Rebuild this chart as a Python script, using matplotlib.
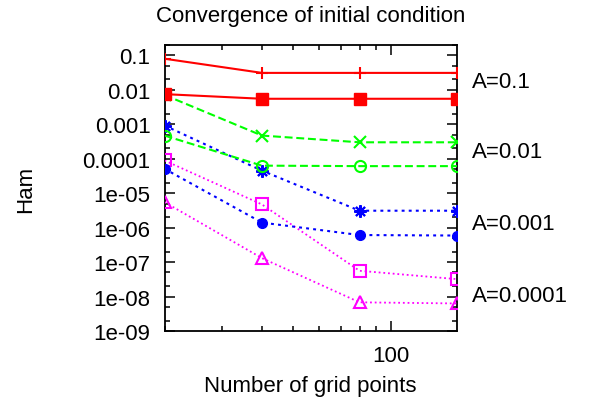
import matplotlib
matplotlib.use('Agg')
import matplotlib.pyplot as plt
from matplotlib.ticker import FixedLocator, FixedFormatter, NullFormatter
import matplotlib.transforms as mtransforms

# ---------------- data ----------------
grid_points = [20, 40, 80, 160]
a01_plus = [0.080, 0.031, 0.031, 0.031]
a01_square = [0.0075, 0.0055, 0.0055, 0.0055]
a001_cross = [0.0071, 4.7e-4, 3.0e-4, 3.0e-4]
a001_circle = [4.7e-4, 6.3e-5, 6.1e-5, 6.1e-5]
a0001_star = [9.2e-4, 4.5e-5, 3.1e-6, 3.1e-6]
a0001_dot = [5.1e-5, 1.4e-6, 6.1e-7, 5.9e-7]
a00001_square = [8.9e-5, 4.7e-6, 5.6e-8, 3.2e-8]
a00001_tri = [5.5e-6, 1.3e-7, 6.8e-9, 6.3e-9]

group_labels = ['A=0.1', 'A=0.01', 'A=0.001', 'A=0.0001']
group_label_y = [0.017, 1.6e-4, 1.3e-6, 1.05e-8]

ytick_values = [1e-1, 1e-2, 1e-3, 1e-4, 1e-5, 1e-6, 1e-7, 1e-8, 1e-9]
ytick_labels = ['0.1', '0.01', '0.001', '0.0001', '1e-05', '1e-06',
                '1e-07', '1e-08', '1e-09']
xtick_values = [100]
xtick_labels = ['100']

title = 'Convergence of initial condition'
xlabel = 'Number of grid points'
ylabel = 'Ham'

# ---------------- style ----------------
plt.rcParams['font.family'] = ['Liberation Sans', 'DejaVu Sans']
FS = 16
RED, GREEN, BLUE, MAG = '#ff0000', '#00ff00', '#0000ff', '#ff00ff'

fig = plt.figure(figsize=(5.9, 4.1), dpi=100)
ax = fig.add_axes([164.5 / 590, 1 - 332 / 410, (457 - 164.5) / 590, (332 - 46) / 410])

ax.set_xscale('log')
ax.set_yscale('log')

lw_main = 1.5
dash_green = (0, (3.8, 1.8))
dash_blue = (0, (1.4, 2.0))
dash_mag = (0, (1.0, 1.6))

# magenta (A=0.0001)
ax.plot(grid_points, a00001_square, color=MAG, lw=1.3, ls=dash_mag, marker='s',
        ms=8, mfc='none', mew=1.5, zorder=3)
ax.plot(grid_points, a00001_tri, color=MAG, lw=1.3, ls=dash_mag, marker='^',
        ms=9, mfc='none', mew=1.5, zorder=3)
# blue (A=0.001)
ax.plot(grid_points, a0001_star, color=BLUE, lw=lw_main, ls=dash_blue, marker=(8, 2, 0),
        ms=9, mew=1.5, zorder=4)
ax.plot(grid_points, a0001_dot, color=BLUE, lw=lw_main, ls=dash_blue, marker='o',
        ms=7, zorder=4)
# green (A=0.01)
ax.plot(grid_points, a001_cross, color=GREEN, lw=lw_main, ls=dash_green, marker='x',
        ms=8, mew=1.5, zorder=5)
ax.plot(grid_points, a001_circle, color=GREEN, lw=lw_main, ls=dash_green, marker='o',
        ms=8, mfc='none', mew=1.5, zorder=5)
# red (A=0.1)
ax.plot(grid_points, a01_plus, color=RED, lw=lw_main, ls='-', marker='+',
        ms=9, mew=1.5, zorder=6)
ax.plot(grid_points, a01_square, color=RED, lw=lw_main, ls='-', marker='s',
        ms=8, zorder=6)

ax.set_xlim(20, 160)
ax.set_ylim(1e-9, 0.2)

# ticks
ax.yaxis.set_major_locator(FixedLocator(ytick_values))
ax.yaxis.set_major_formatter(FixedFormatter(ytick_labels))
yminor = []
for e in range(-9, 0):
    for m in (2, 5):
        yminor.append(m * 10.0 ** e)
ax.yaxis.set_minor_locator(FixedLocator(yminor))
ax.yaxis.set_minor_formatter(NullFormatter())

ax.xaxis.set_major_locator(FixedLocator(xtick_values))
ax.xaxis.set_major_formatter(FixedFormatter(xtick_labels))
ax.xaxis.set_minor_locator(FixedLocator([20, 30, 40, 50, 60, 70, 80, 90, 200]))
ax.xaxis.set_minor_formatter(NullFormatter())

ax.tick_params(which='both', direction='in', top=True, right=True, colors='black',
               width=1.1, labelsize=FS)
ax.tick_params(which='major', length=7.2, pad=10)
ax.tick_params(which='minor', length=3.6)
for s in ax.spines.values():
    s.set_linewidth(1.3)
    s.set_color('black')

ax.set_title(title, fontsize=FS, pad=17)
ax.set_xlabel(xlabel, fontsize=FS)
ax.set_ylabel(ylabel, fontsize=FS)
ax.xaxis.set_label_coords(0.5, -0.155)
ax.yaxis.set_label_coords(-0.44, 0.5)

trans = mtransforms.blended_transform_factory(ax.transAxes, ax.transData)
for lab, yv in zip(group_labels, group_label_y):
    ax.text(1.05, yv, lab, transform=trans, ha='left', va='center', fontsize=FS,
            clip_on=False)

fig.savefig('out.png', dpi=100)
